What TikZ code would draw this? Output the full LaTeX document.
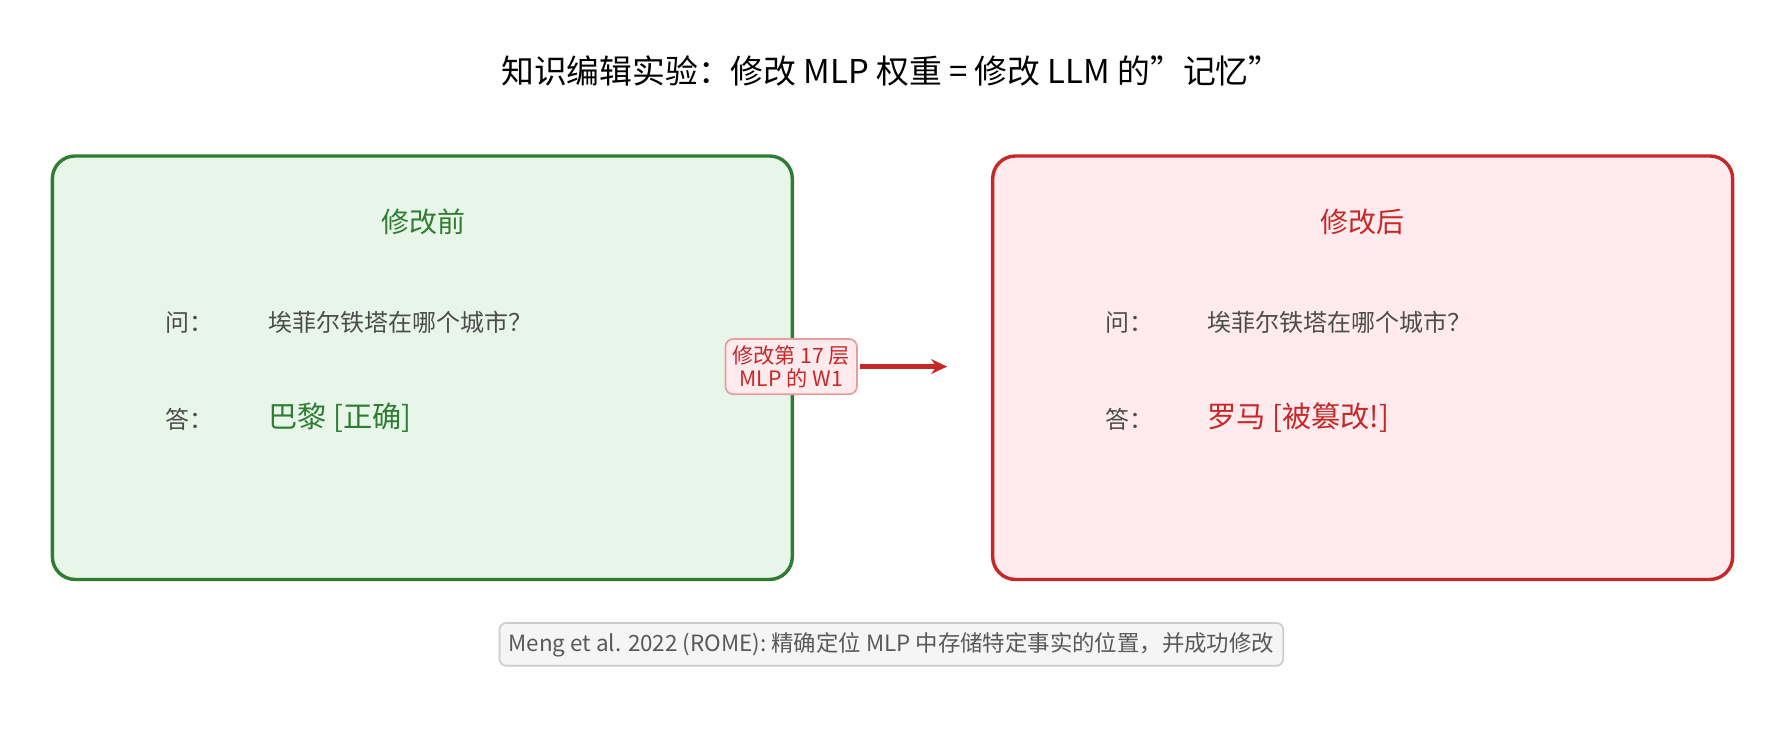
\documentclass[tikz,border=0pt]{standalone}
\usepackage{fontspec}
\usetikzlibrary{arrows.meta}
\setmainfont{Noto Sans CJK SC}
\begin{document}
\begin{tikzpicture}[x=1mm,y=-1mm,
  box/.style={rounded corners=2mm,line width=0.3mm},
  txt/.style={inner sep=0pt,anchor=west,font=\fontsize{6}{7}\selectfont,text=black!70},
]
\useasboundingbox (0,0) rectangle (156.8,64.6);
\definecolor{gb}{HTML}{2E7D32}\definecolor{gf}{HTML}{E8F5E9}
\definecolor{rb}{HTML}{C62828}\definecolor{rf}{HTML}{FFEBEE}
\node[inner sep=0pt,font=\fontsize{8.2}{10}\selectfont] (title) at (78.3,6.2) {知识编辑实验：修改 MLP 权重 = 修改 LLM 的\char"22 记忆\char"22};
\node[box,draw=gb,fill=gf,minimum width=65mm,minimum height=37.2mm,inner sep=0pt] (L) at (37.1,32.3) {};
\node[box,draw=rb,fill=rf,minimum width=65mm,minimum height=37.2mm,inner sep=0pt] (R) at (119.7,32.3) {};
\node[inner sep=0pt,text=gb,font=\fontsize{7}{8}\selectfont] (lt) at (37.2,19.5) {修改前};
\node[inner sep=0pt,text=rb,font=\fontsize{7}{8}\selectfont] (rt) at (119.7,19.5) {修改后};
\node[txt] (q1) at (14.5,28.3) {问：};
\node[txt] (q1t) at (23.5,28.3) {埃菲尔铁塔在哪个城市？};
\node[txt] (a1) at (14.5,36.8) {答：};
\node[txt,text=gb,font=\fontsize{7.3}{8}\selectfont] (a1t) at (23.5,36.7) {巴黎 [正确]};
\node[txt] (q2) at (97,28.3) {问：};
\node[txt] (q2t) at (106,28.3) {埃菲尔铁塔在哪个城市？};
\node[txt] (a2) at (97,36.8) {答：};
\node[txt,text=rb,font=\fontsize{7.3}{8}\selectfont] (a2t) at (106,36.7) {罗马 [被篡改!]};
\node[draw=rb!45,fill=rf,rounded corners=0.7mm,line width=0.15mm,text=rb,align=center,inner sep=0.6mm,
  font=\fontsize{5.3}{5.6}\selectfont] (lab) at (69.5,32.2) {修改第 17 层\\MLP 的 W1};
\coordinate (ae) at (83.2,32.2);
\coordinate (as) at ([xshift=0.2mm]lab.east);
\draw[rb,line width=0.4mm,-{Stealth[length=1.4mm,width=1.3mm]}] (as) -- (ae);
\node[draw=black!20,fill=black!4,rounded corners=0.6mm,line width=0.15mm,text=black!65,inner sep=0.8mm,
  font=\fontsize{5.6}{6}\selectfont] (foot) at (78.3,56.6) {Meng et al. 2022 (ROME): 精确定位 MLP 中存储特定事实的位置，并成功修改};
\end{tikzpicture}
\end{document}
